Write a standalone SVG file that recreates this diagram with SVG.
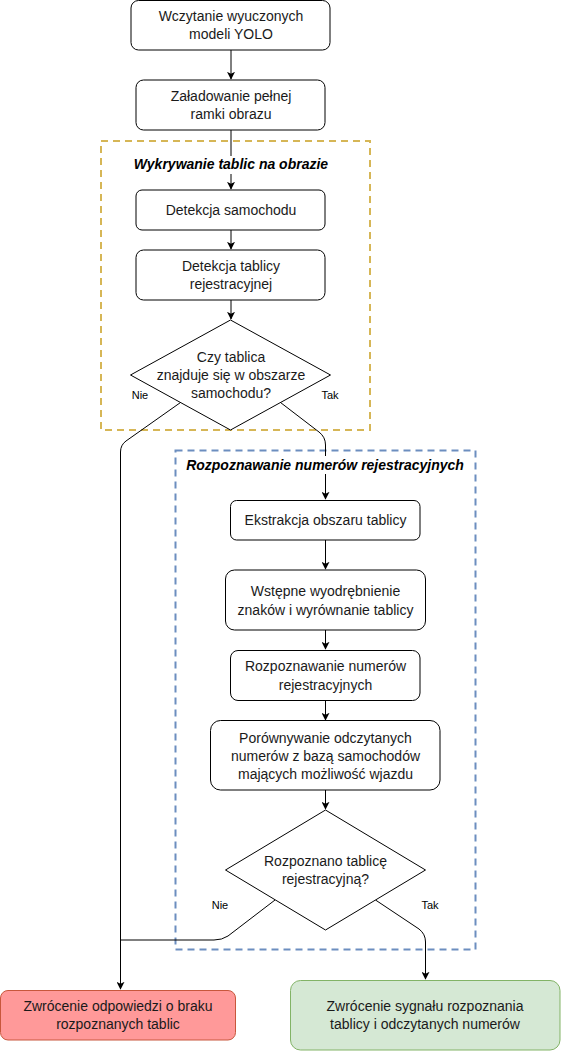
<svg xmlns="http://www.w3.org/2000/svg" width="561" height="1051" viewBox="0 0 561 1051">
<defs>
<marker id="arr" viewBox="0 0 10 10" refX="9" refY="5" markerWidth="8" markerHeight="8" markerUnits="userSpaceOnUse" orient="auto">
<path d="M0,0 L10,5 L0,10 L2.5,5 Z" fill="#000"/>
</marker>
<style>
.box{fill:#fff;stroke:#000;stroke-width:1}
.t{font-family:"Liberation Sans",Arial,sans-serif;font-size:14px;fill:#1a1a1a;text-anchor:middle;dominant-baseline:central}
.s{font-family:"Liberation Sans",Arial,sans-serif;font-size:11px;fill:#000;text-anchor:middle;dominant-baseline:central}
.ttl{font-family:"Liberation Sans",Arial,sans-serif;font-size:14px;font-weight:bold;font-style:italic;fill:#000;text-anchor:middle;dominant-baseline:central}
.c{fill:none;stroke:#000;stroke-width:1}
</style>
</defs>
<rect width="561" height="1051" fill="#fff"/>

<g id="group-detection">
<rect x="101" y="141" width="269" height="289" fill="none" stroke="#d6b656" stroke-width="2" stroke-dasharray="7 5"/>
</g>
<g id="group-recognition">
<rect x="175.5" y="450.5" width="300" height="499" fill="none" stroke="#6c8ebf" stroke-width="2" stroke-dasharray="7 5"/>
</g>

<g id="connectors">
<path class="c" d="M231,50 L231,79" marker-end="url(#arr)"/>
<path class="c" d="M231,130 L231,189" marker-end="url(#arr)"/>
<path class="c" d="M231,230 L231,249" marker-end="url(#arr)"/>
<path class="c" d="M231,300 L231,319" marker-end="url(#arr)"/>
<path class="c" d="M180.5,402.5 L126,441 Q120.5,445 120.5,452 L120.5,989" marker-end="url(#arr)"/>
<path class="c" d="M280.5,402.5 L319,432 Q325.5,437 325.5,445 L325.5,499" marker-end="url(#arr)"/>
<path class="c" d="M325.5,540 L325.5,569" marker-end="url(#arr)"/>
<path class="c" d="M325.5,630 L325.5,649" marker-end="url(#arr)"/>
<path class="c" d="M325.5,700 L325.5,720" marker-end="url(#arr)"/>
<path class="c" d="M325.5,790 L325.5,809" marker-end="url(#arr)"/>
<path class="c" d="M275,900 L228,936 Q222,940 214,940 L120.5,940"/>
<path class="c" d="M375.5,900 L419,929 Q425.5,934 425.5,942 L425.5,979" marker-end="url(#arr)"/>
</g>

<g id="title-detection">
<rect x="133" y="156" width="196" height="18" fill="#fff"/>
<text class="ttl" x="231" y="164">Wykrywanie tablic na obrazie</text>
</g>
<g id="title-recognition">
<rect x="187" y="456" width="276" height="18" fill="#fff"/>
<text class="ttl" x="325" y="465">Rozpoznawanie numerów rejestracyjnych</text>
</g>

<g id="n1">
<rect class="box" x="131" y="0.5" width="199" height="49.5" rx="7.5"/>
<text class="t" x="231" y="16">Wczytanie wyuczonych</text>
<text class="t" x="231" y="34">modeli YOLO</text>
</g>
<g id="n2">
<rect class="box" x="136" y="80" width="189" height="50" rx="7.5"/>
<text class="t" x="231" y="96">Załadowanie pełnej</text>
<text class="t" x="231" y="114">ramki obrazu</text>
</g>
<g id="n3">
<rect class="box" x="136" y="190" width="189" height="40" rx="6"/>
<text class="t" x="231" y="210">Detekcja samochodu</text>
</g>
<g id="n4">
<rect class="box" x="136" y="250" width="189" height="50" rx="7.5"/>
<text class="t" x="231" y="266">Detekcja tablicy</text>
<text class="t" x="231" y="284">rejestracyjnej</text>
</g>
<g id="d1">
<path class="box" d="M230.5,320 L330.5,375 L230.5,430 L130.5,375 Z"/>
<text class="t" x="231" y="357">Czy tablica</text>
<text class="t" x="231" y="375">znajduje się w obszarze</text>
<text class="t" x="231" y="393">samochodu?</text>
</g>
<g id="l-nie1"><text class="s" x="140" y="395">Nie</text></g>
<g id="l-tak1"><text class="s" x="330" y="395">Tak</text></g>

<g id="n5">
<rect class="box" x="230.5" y="500.5" width="189.5" height="39.5" rx="6"/>
<text class="t" x="325.5" y="520">Ekstrakcja obszaru tablicy</text>
</g>
<g id="n6">
<rect class="box" x="225.5" y="570" width="200" height="60" rx="9"/>
<text class="t" x="325.5" y="591">Wstępne wyodrębnienie</text>
<text class="t" x="325.5" y="610">znaków i wyrównanie tablicy</text>
</g>
<g id="n7">
<rect class="box" x="230.5" y="650.5" width="189.5" height="50" rx="7.5"/>
<text class="t" x="325.5" y="666">Rozpoznawanie numerów</text>
<text class="t" x="325.5" y="685">rejestracyjnych</text>
</g>
<g id="n8">
<rect class="box" x="210.5" y="720.5" width="229.5" height="69.5" rx="10"/>
<text class="t" x="325.5" y="738">Porównywanie odczytanych</text>
<text class="t" x="325.5" y="756">numerów z bazą samochodów</text>
<text class="t" x="325.5" y="774">mających możliwość wjazdu</text>
</g>
<g id="d2">
<path class="box" d="M325.5,810 L425.5,870 L325.5,930 L225.5,870 Z"/>
<text class="t" x="325.5" y="861">Rozpoznano tablicę</text>
<text class="t" x="325.5" y="879">rejestracyjną?</text>
</g>
<g id="l-nie2"><text class="s" x="220" y="905">Nie</text></g>
<g id="l-tak2"><text class="s" x="430" y="905">Tak</text></g>

<g id="n9">
<rect x="0.5" y="990.5" width="235" height="49.5" rx="7.5" fill="#ff9999" stroke="#c8573c" stroke-width="1"/>
<text class="t" x="118" y="1006">Zwrócenie odpowiedzi o braku</text>
<text class="t" x="118" y="1024">rozpoznanych tablic</text>
</g>
<g id="n10">
<rect x="290.5" y="980.5" width="269.5" height="69.5" rx="10" fill="#d5e8d4" stroke="#82b366" stroke-width="1"/>
<text class="t" x="425" y="1006">Zwrócenie sygnału rozpoznania</text>
<text class="t" x="425" y="1024">tablicy i odczytanych numerów</text>
</g>
</svg>
